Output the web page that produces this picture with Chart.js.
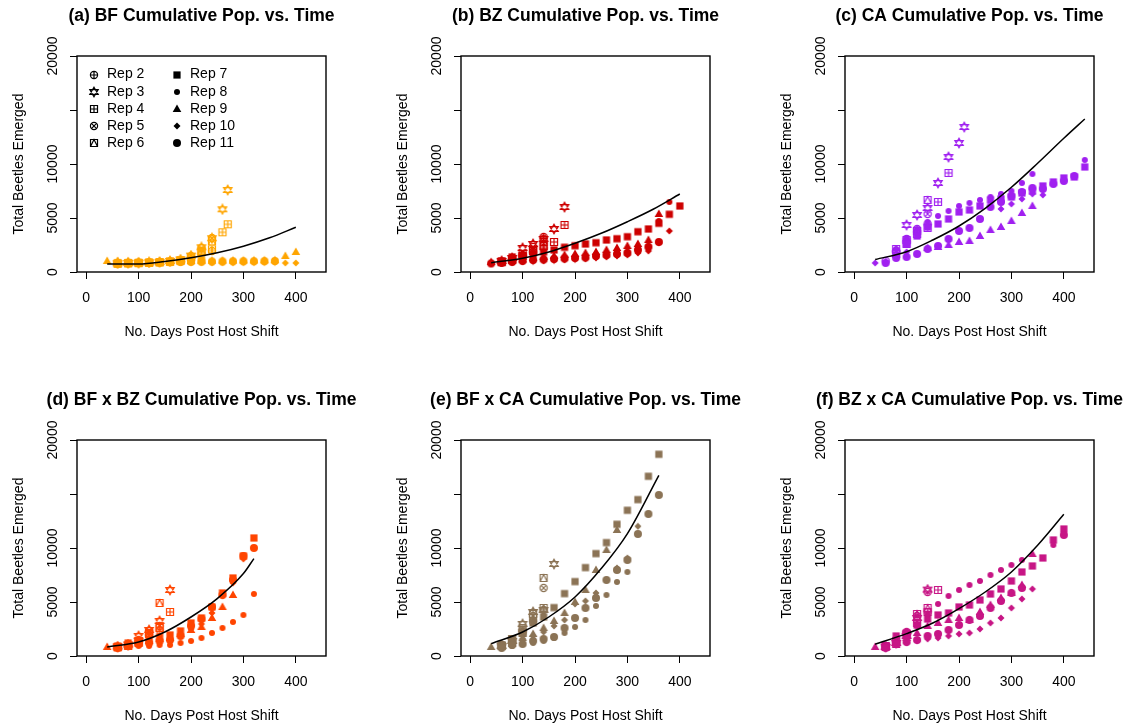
<!DOCTYPE html>
<html lang="en">
<head>
<meta charset="UTF-8">
<title>Cumulative Pop. vs. Time</title>
<script src="https://cdn.jsdelivr.net/npm/chart.js@4"></script>
<style>
  body { margin: 0; width: 1134px; height: 725px; overflow: hidden; background: #fff; position: relative; }
  .panel { position: absolute; width: 403px; height: 384px; }
</style>
</head>
<body>
<div class="panel" style="left:0;top:0"><canvas id="pa" width="403" height="384"></canvas></div>
<div class="panel" style="left:384px;top:0"><canvas id="pb" width="403" height="384"></canvas></div>
<div class="panel" style="left:768px;top:0"><canvas id="pc" width="403" height="384"></canvas></div>
<div class="panel" style="left:0;top:384px"><canvas id="pd" width="403" height="384"></canvas></div>
<div class="panel" style="left:384px;top:384px"><canvas id="pe" width="403" height="384"></canvas></div>
<div class="panel" style="left:768px;top:384px"><canvas id="pf" width="403" height="384"></canvas></div>
<script>
const N = null;
const repLabels = ['Rep 2', 'Rep 3', 'Rep 4', 'Rep 5', 'Rep 6', 'Rep 7', 'Rep 8', 'Rep 9', 'Rep 10', 'Rep 11'];
const repPch = [10, 11, 12, 13, 14, 15, 16, 17, 18, 19];
const xTickLabels = ['0', '100', '200', '300', '400'];
const yTickLabels = ['0', '5000', '10000', '', '20000'];

// (a) BF
const bfDays = [40, 60, 80, 100, 120, 140, 160, 180, 200, 220, 240, 260, 270, 280, 300, 320, 340, 360, 380, 400];
const bfReps = [
  [N, 60, 80, 100, 140, 180, 240, 330, 560, 1000, 1300],
  [N, 80, 100, 120, 160, 200, 300, 450, 840, 1670, 2570, 5470, 7400],
  [N, 50, 90, 110, 140, 180, 250, 380, 700, 1200, 1470, 3170, 3970],
  [N, 40, 70, 90, 120, 170, 230, 350, 800, 1600, 2600],
  [N, 30, 60, 80, 110, 160, 220, 330, 650, 1300, 2270],
  [N, 120, 130, 150, 170, 200, 230, 280, 320, 380],
  [N, 30, 50, 70, 90, 100, 120, 140, 150, 160, 170, 180, N, 190, 200, 210, 220, 230],
  [300, 300, 280, 260, 260, 270, 280, 290, 300, 320, 330, 340, N, 340, 350, 360, 370, 380, 800, 1200],
  [N, 60, 70, 80, 90, 100, 100, 110, 110, 120, 120, 130, N, 130, 130, 140, 140, 150, 100, 100],
  [N, 100, 120, 140, 150, 160, 180, 200, 220, 240, 250, 260, N, 270, 280, 280, 290, 300]
];
const bfCurveDays = [40, 100, 150, 200, 250, 300, 350, 400];
const bfCurve = [0, 0, 250, 620, 1120, 1780, 2620, 3670];

// (b) BZ
const bzDays = [40, 60, 80, 100, 120, 140, 160, 180, 200, 220, 240, 260, 280, 300, 320, 340, 360, 380, 400];
const bzReps = [
  [N, 200, 400, 800, 1200, 1600],
  [N, 300, 600, 1600, 2000, 2500, 3500, 5700],
  [N, 250, 500, 1000, 1400, 1800, 2200, 3900],
  [N, 200, 450, 900, 1700, 2700],
  [N, 180, 400, 800, 1300, 2200],
  [N, 300, 700, 800, 1000, 1200, 1400, 1670, 1830, 2000, 2130, 2400, 2530, 2730, 3230, 3500, 4070, 4970, 5800],
  [100, 150, 250, 350, 450, 500, 550, 600, 700, 750, 900, 1000, 1100, 1200, 1500, 1800, 4300, 6200],
  [200, 250, 350, 450, 600, 700, 800, 900, 1000, 1100, 1200, 1400, 1600, 1800, 2000, 2400, 5000],
  [50, 100, 150, 200, 250, 300, 350, 400, 450, 500, 600, 700, 800, 900, 1100, 1300, 2100, 3300],
  [50, 100, 200, 300, 400, 450, 500, 550, 600, 650, 800, 900, 1000, 1100, 1400, 1700, 2200]
];
const bzCurveDays = [40, 100, 150, 200, 250, 300, 350, 400];
const bzCurve = [130, 570, 1200, 2070, 3070, 4230, 5500, 7000];

// (c) CA
const caDays = [40, 60, 80, 100, 120, 140, 160, 180, 200, 210, 220, 240, 260, 280, 300, 320, 340, 360, 380, 400, 420, 440];
const caReps = [
  [N, 300, 1200, 2500, 3200, 4000],
  [N, N, N, 3900, 4900, 5600, 8100, 10700, 12100, 13700],
  [N, N, 1500, 2400, 3000, 3600, 6200, 9100],
  [N, N, 1300, 2200, 3500, 5000],
  [N, N, 1000, 2000, 3300, 6400],
  [N, N, N, 2000, 2800, 3700, 4000, 4500, 5200, N, 5400, 5800, 6400, 6500, 6700, 7100, 7300, 7800, 8200, 8600, 8700, 9700],
  [N, N, 1500, 2600, 3500, 4200, 4800, 5300, 5800, N, 6100, 6400, 6700, 7000, 7300, 8100, 9000, N, N, N, N, 10400],
  [N, N, N, N, N, 1600, 1700, 1900, 2200, N, 2300, 2800, 3400, 3700, 4300, 5100, 5800],
  [100, N, 800, 1200, N, 1500, N, N, N, N, N, N, N, 5500, 6000, 6500, 7000, 6900],
  [N, 100, 600, 700, 1000, 1500, 1800, 2500, 3300, N, 3600, 4500, 5700, 6200, 6800, 7200, 7600, 7500, 8000, 8300, 8800]
];
const caCurveDays = [40, 100, 150, 200, 250, 300, 350, 400, 440];
const caCurve = [450, 1230, 2400, 3800, 5570, 7670, 10070, 12570, 14500];

// (d) BF x BZ
const bfbzDays = [40, 60, 80, 100, 120, 140, 160, 180, 200, 220, 240, 260, 280, 300, 320];
const bfbzReps = [
  [N, 100, 300, 800, 1300, 1800],
  [N, 150, 350, 1200, 1800, 2700, 5800],
  [N, 100, 250, 700, 1500, 2000, 3600],
  [N, 80, 200, 600, 1700, 2200],
  [N, 60, 200, 500, 1400, 4500],
  [N, 200, 500, 700, 900, 1100, 1300, 1700, 2500, 3000, 4100, 5500, 7000, 9200, 11000],
  [N, 0, 100, 200, 200, 300, 300, 500, 700, 1000, 1500, 2000, 2600, 3300, 5400],
  [100, 200, 300, 500, 700, 900, 1000, 1400, 1800, 2100, 3000, 4100, 5300],
  [N, 100, 200, 400, 600, 800, 900, 1300, 1900, 2400, 3500, 5200, 6500, 8900],
  [N, 0, 200, 400, 500, 700, 800, 1200, 2200, 2900, 4100, 5300, 6800, 9200, 10000]
];
const bfbzCurveDays = [40, 100, 150, 200, 250, 300, 320];
const bfbzCurve = [100, 600, 1600, 3100, 4940, 7440, 8940];

// (e) BF x CA
const bfcaDays = [40, 60, 80, 100, 120, 140, 160, 180, 200, 220, 240, 260, 280, 300, 320, 340, 360];
const bfcaReps = [
  [N, 300, 800, 1600, 2600, 3800],
  [N, 200, 700, 2400, 3600, 3800, 8400],
  [N, 200, 900, 2000, 3400, 4000],
  [N, 300, 600, 1800, 3200, 6000],
  [N, 250, 500, 1500, 3000, 7000],
  [N, 300, 900, 1500, 2500, 3100, 4040, 5440, 6640, 8040, 9440, 10540, 12370, 13770, 14840, 17170, 19370],
  [N, 100, 200, 400, 500, 700, 1000, 1500, 2100, 2800, 4200, 5300, 6600, 7600],
  [100, 300, 700, 1000, 1400, 2000, 2700, 3500, 4600, 5800, 7800, 9800, 11800],
  [N, 200, 600, 900, 1200, 1600, 2200, 2800, 4400, 4700, 5500, 6800, 8000, 9000, 12170],
  [N, 0, 300, 400, 700, 900, 1100, 2000, 3000, 4000, 5000, 6800, 7800, 8800, 11400, 13400, 15300]
];
const bfcaCurveDays = [40, 100, 150, 200, 250, 300, 360];
const bfcaCurve = [440, 1600, 3100, 5100, 7940, 11440, 17270];

// (f) BZ x CA
const bzcaDays = [40, 60, 80, 100, 120, 140, 160, 180, 200, 220, 240, 260, 280, 300, 320, 340, 360, 380, 400];
const bzcaReps = [
  [N, 200, 600, 1500, 2800, 3600],
  [N, 100, 500, 1200, 3000, 5840],
  [N, 200, 400, 1400, 2500, 3600, 5800],
  [N, 150, 500, 1600, 3200, 5600],
  [N, 100, 700, 1300, 3400, 4000],
  [N, 200, 1200, 1500, 2300, 2900, 3300, 3500, 4100, 4300, 4800, 5400, 5900, 6700, 7600, 8200, 9000, 10800, 11900],
  [N, 100, 400, 1200, 2200, 3400, 4400, 5200, 5800, 6300, 6700, 7300, 7800, 8300, 8800, N, N, 10300, 11400],
  [100, 200, 500, 1000, 1500, 2200, 2500, 2800, 3000, 2800, 3600, 4300, 5000, 5500, 6300, 9400],
  [N, 100, 300, 500, 700, 900, 1000, 1200, 1400, 1500, 1900, 2500, 3000, 4000, 4900, 5900],
  [N, 0, 400, 600, 800, 1200, 1400, 1800, 2300, 2800, 3200, 4000, 4700, 5500, 6000, N, N, N, 11300]
];
const bzcaCurveDays = [40, 100, 150, 200, 250, 300, 350, 400];
const bzcaCurve = [370, 1440, 2500, 3940, 5600, 7600, 10270, 13370];

const FONT = "'Liberation Sans', Arial, Helvetica, sans-serif";
Chart.defaults.font.family = FONT;
Chart.defaults.color = '#000';

// R-like plotting symbols (pch 10-19) as small canvases
function symbol(pch, color) {
  const c = document.createElement('canvas');
  c.width = 12; c.height = 12;
  const g = c.getContext('2d');
  const m = 6;
  g.strokeStyle = color; g.fillStyle = color; g.lineWidth = 1.2;
  g.beginPath();
  if (pch === 10) {
    g.arc(m, m, 3.6, 0, 2 * Math.PI);
    g.moveTo(m - 3.6, m); g.lineTo(m + 3.6, m);
    g.moveTo(m, m - 3.6); g.lineTo(m, m + 3.6);
    g.stroke();
  } else if (pch === 11) {
    g.moveTo(m, m - 4.8); g.lineTo(m + 4.2, m + 2.4); g.lineTo(m - 4.2, m + 2.4); g.closePath();
    g.moveTo(m, m + 4.8); g.lineTo(m + 4.2, m - 2.4); g.lineTo(m - 4.2, m - 2.4); g.closePath();
    g.stroke();
  } else if (pch === 12) {
    g.rect(m - 3.5, m - 3.5, 7, 7);
    g.moveTo(m - 3.5, m); g.lineTo(m + 3.5, m);
    g.moveTo(m, m - 3.5); g.lineTo(m, m + 3.5);
    g.stroke();
  } else if (pch === 13) {
    g.arc(m, m, 3.6, 0, 2 * Math.PI);
    g.moveTo(m - 2.55, m - 2.55); g.lineTo(m + 2.55, m + 2.55);
    g.moveTo(m + 2.55, m - 2.55); g.lineTo(m - 2.55, m + 2.55);
    g.stroke();
  } else if (pch === 14) {
    g.rect(m - 3.5, m - 3.5, 7, 7);
    g.moveTo(m - 3.5, m + 3.5); g.lineTo(m, m - 3.5); g.lineTo(m + 3.5, m + 3.5);
    g.stroke();
  } else if (pch === 15) {
    g.fillRect(m - 3.6, m - 3.6, 7.2, 7.2);
  } else if (pch === 16) {
    g.arc(m, m, 3, 0, 2 * Math.PI); g.fill();
  } else if (pch === 17) {
    g.moveTo(m, m - 4.6); g.lineTo(m + 4.3, m + 2.9); g.lineTo(m - 4.3, m + 2.9); g.closePath(); g.fill();
  } else if (pch === 18) {
    g.moveTo(m, m - 3.5); g.lineTo(m + 3.5, m); g.lineTo(m, m + 3.5); g.lineTo(m - 3.5, m); g.closePath(); g.fill();
  } else {
    g.arc(m, m, 4, 0, 2 * Math.PI); g.fill();
  }
  return c;
}

const rBox = {
  id: 'rBox',
  afterDatasetsDraw(chart) {
    const {left, top, right, bottom} = chart.chartArea;
    const ctx = chart.ctx;
    ctx.save();
    ctx.strokeStyle = '#000';
    ctx.lineWidth = 1.4;
    ctx.strokeRect(left, top, right - left, bottom - top);
    ctx.restore();
  }
};

const legendSymbols = repPch.map(p => symbol(p, '#000'));
const repLegend = {
  id: 'repLegend',
  afterDraw(chart) {
    const ctx = chart.ctx;
    const a = chart.chartArea;
    ctx.save();
    ctx.font = '14px ' + FONT;
    ctx.fillStyle = '#000';
    ctx.textBaseline = 'middle';
    ctx.textAlign = 'left';
    repLabels.forEach((lab, i) => {
      const sx = a.left + 17 + Math.floor(i / 5) * 83;
      const y = a.top + 18.5 + (i % 5) * 17.2;
      ctx.drawImage(legendSymbols[i], Math.round(sx - 6), Math.round(y - 6));
      ctx.fillText(lab, sx + 13, y);
    });
    ctx.restore();
  }
};

function makePanel(id, title, color, days, reps, curveDays, curve, withLegend) {
  const datasets = [{
    data: curveDays.map((d, i) => ({x: d, y: curve[i]})),
    showLine: true,
    borderColor: '#000',
    borderWidth: 1.5,
    pointRadius: 0,
    cubicInterpolationMode: 'monotone',
    order: 0
  }];
  reps.forEach((vals, r) => {
    const pts = [];
    vals.forEach((v, i) => { if (v !== null && v !== undefined) pts.push({x: days[i], y: v}); });
    datasets.push({
      label: repLabels[r],
      data: pts,
      pointStyle: symbol(repPch[r], color),
      pointRadius: 5,
      order: 10 - r
    });
  });

  const tickGrid = {drawOnChartArea: false, drawTicks: true, tickLength: 7, color: '#000', lineWidth: 1};
  new Chart(document.getElementById(id), {
    type: 'scatter',
    data: {datasets: datasets},
    options: {
      responsive: false,
      animation: false,
      devicePixelRatio: 1,
      events: [],
      layout: {padding: 0},
      plugins: {
        legend: {display: false},
        tooltip: {enabled: false},
        title: {
          display: true,
          text: title,
          color: '#000',
          font: {size: 17.5, weight: 'bold'},
          padding: {top: 5.5, bottom: 29.5}
        }
      },
      scales: {
        x: {
          type: 'linear',
          min: -17.6, max: 457.6,
          grid: tickGrid,
          border: {display: false},
          ticks: {
            stepSize: 100, includeBounds: false, autoSkip: false, maxRotation: 0,
            font: {size: 14}, color: '#000', padding: 11,
            callback: (v, i) => xTickLabels[i]
          },
          title: {display: true, text: 'No. Days Post Host Shift', font: {size: 14}, color: '#000', padding: {top: 0, bottom: 43.6}},
          afterFit: s => { s.height = 112; }
        },
        y: {
          type: 'linear',
          min: -800, max: 20800,
          grid: tickGrid,
          border: {display: false},
          ticks: {
            stepSize: 5000, includeBounds: false, autoSkip: false,
            minRotation: 90, maxRotation: 90, crossAlign: 'center',
            font: {size: 14}, color: '#000', padding: -3,
            callback: (v, i) => yTickLabels[i]
          },
          title: {display: true, text: 'Total Beetles Emerged', font: {size: 14}, color: '#000', padding: {top: 11, bottom: 0}},
          afterFit: s => { s.width = 77; }
        },
        // empty right margin so the title centres over the plot box
        margin: {
          type: 'linear',
          position: 'right',
          grid: {display: false},
          border: {display: false},
          ticks: {display: false},
          afterFit: s => { s.width = 77; }
        }
      }
    },
    plugins: withLegend ? [rBox, repLegend] : [rBox]
  });
}

makePanel('pa', '(a) BF Cumulative Pop. vs. Time', '#FFA500', bfDays, bfReps, bfCurveDays, bfCurve, true);
makePanel('pb', '(b) BZ Cumulative Pop. vs. Time', '#CD0000', bzDays, bzReps, bzCurveDays, bzCurve, false);
makePanel('pc', '(c) CA Cumulative Pop. vs. Time', '#A020F0', caDays, caReps, caCurveDays, caCurve, false);
makePanel('pd', '(d) BF x BZ Cumulative Pop. vs. Time', '#FF4500', bfbzDays, bfbzReps, bfbzCurveDays, bfbzCurve, false);
makePanel('pe', '(e) BF x CA Cumulative Pop. vs. Time', '#8B7355', bfcaDays, bfcaReps, bfcaCurveDays, bfcaCurve, false);
makePanel('pf', '(f) BZ x CA Cumulative Pop. vs. Time', '#C71585', bzcaDays, bzcaReps, bzcaCurveDays, bzcaCurve, false);
</script>
</body>
</html>
